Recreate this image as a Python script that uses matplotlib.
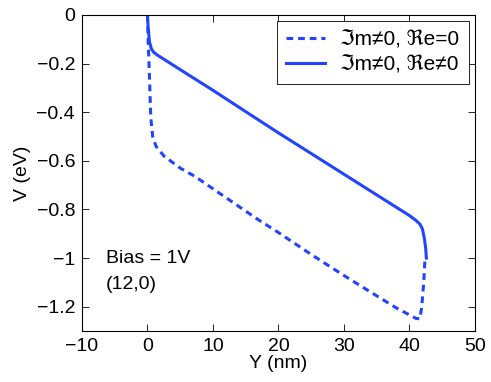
import matplotlib
matplotlib.use("Agg")
from matplotlib import pyplot as plt

plt.rcParams['font.family'] = ['Liberation Sans', 'DejaVu Sans']

# %% data
x_im = [0.0, 0.1, 0.3, 0.5, 0.8, 1.3, 2.5, 5.0, 7.3, 10.0, 16.8, 20.0, 25.0,
        29.9, 35.0, 38.0, 40.1, 41.0, 41.6, 41.9, 42.2, 42.4]
v_im = [0.0, -0.1, -0.25, -0.42, -0.50, -0.54, -0.58, -0.63, -0.665, -0.715,
        -0.84, -0.895, -0.985, -1.07, -1.155, -1.205, -1.235, -1.248, -1.25,
        -1.2, -1.1, -1.0]

x_re = [0.0, 0.1, 0.3, 0.6, 1.0, 1.5, 5.0, 10.0, 15.7, 20.0, 25.0, 30.0, 35.0,
        40.0, 41.0, 41.6, 42.0, 42.3, 42.5, 42.6]
v_re = [0.0, -0.05, -0.11, -0.14, -0.155, -0.165, -0.225, -0.31, -0.41, -0.485,
        -0.57, -0.655, -0.74, -0.825, -0.845, -0.86, -0.88, -0.92, -0.96, -1.0]

labels = ['\u2111m\u22600, \u211ce=0', '\u2111m\u22600, \u211ce\u22600']
xticks = [-10, 0, 10, 20, 30, 40, 50]
yticks = [0, -0.2, -0.4, -0.6, -0.8, -1, -1.2]

# %%
fs = 14
fig = plt.figure(figsize=(4.91, 3.82), dpi=100)
ax = fig.add_axes([0.167, 0.1335, 0.8, 0.8275])
blue = '#2244ff'
ax.plot(x_im, v_im, '--', color=blue, lw=2.2, dashes=(2.2, 1.6), label=labels[0])
ax.plot(x_re, v_re, '-', color=blue, lw=2.2, label=labels[1])

ax.set_xlim(-10, 50)
ax.set_ylim(-1.3, 0)
ax.set_xticks(xticks)
ax.set_yticks(yticks)
ax.set_xticklabels(['\u221210', '0', '10', '20', '30', '40', '50'])
ax.set_yticklabels(['0', '\u22120.2', '\u22120.4', '\u22120.6', '\u22120.8',
                    '\u22121', '\u22121.2'])
ax.tick_params(direction='in', top=True, right=True, labelsize=fs,
               length=5, width=0.6, pad=5)
for s in ax.spines.values():
    s.set_linewidth(0.8)
ax.set_xlabel('Y (nm)', fontsize=fs, labelpad=0)
ax.set_ylabel('V (eV)', fontsize=fs, labelpad=4)

leg = ax.legend(loc='upper right', fontsize=15, fancybox=False,
                edgecolor='black', framealpha=1, handlelength=1.9,
                borderaxespad=0.3, labelspacing=0.3, borderpad=0.45,
                handletextpad=0.7)
leg.get_frame().set_linewidth(0.6)

ax.text(-6.3, -1.0, 'Bias = 1V', fontsize=fs, va='center')
ax.text(-6.3, -1.11, '(12,0)', fontsize=fs, va='center')

fig.savefig('out.png', dpi=100)
